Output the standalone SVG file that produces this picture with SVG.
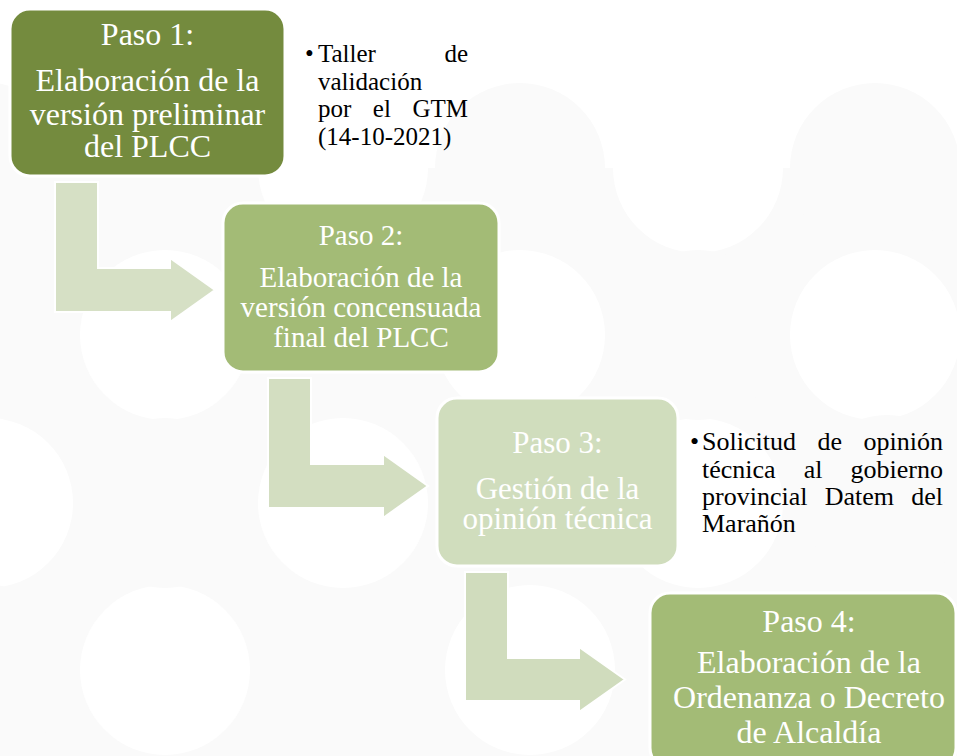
<svg xmlns="http://www.w3.org/2000/svg" width="957" height="756" viewBox="0 0 957 756">
<style>
.bg{fill:#fafafa}
.wh{fill:#ffffff}
.box{stroke:#ffffff;stroke-width:3}
.arr{stroke:#ffffff;stroke-width:2}
.t{fill:#ffffff;text-anchor:middle}
.n{fill:#000000}
</style>
<rect x="0" y="0" width="957" height="756" fill="#ffffff"/>
<g id="background">
<rect class="bg" x="0" y="168" width="957" height="588"/>
<circle class="bg" cx="-12" cy="168" r="85"/>
<circle class="bg" cx="165" cy="168" r="85"/>
<circle class="bg" cx="520" cy="168" r="85"/>
<circle class="bg" cx="875" cy="168" r="85"/>
<circle class="wh" cx="343" cy="168" r="85"/>
<circle class="wh" cx="698" cy="168" r="85"/>
<circle class="wh" cx="165" cy="335" r="85"/>
<circle class="wh" cx="520" cy="335" r="85"/>
<circle class="wh" cx="875" cy="335" r="85"/>
<circle class="wh" cx="-12" cy="503" r="85"/>
<circle class="wh" cx="343" cy="503" r="85"/>
<circle class="wh" cx="698" cy="503" r="85"/>
<circle class="wh" cx="165" cy="670" r="85"/>
<circle class="wh" cx="530" cy="670" r="85"/>
<circle class="bg" cx="698" cy="335" r="85"/>
<circle class="bg" cx="165" cy="503" r="85"/>
<circle class="bg" cx="887" cy="500" r="85"/>
<circle class="bg" cx="-12" cy="670" r="85"/>
</g>
<g id="connectors">
<path class="arr" fill="#d6e0c5" d="M55,182 H98 V268 H170 V258 L215,290 L170,322 V312 H55 Z"/>
<path class="arr" fill="#d3dec1" d="M268,378 H311 V464 H383 V454 L428,486 L383,518 V508 H268 Z"/>
<path class="arr" fill="#d0dcbd" d="M465,572 H508 V658 H579 V647 L625,679.5 L579,712 V701 H465 Z"/>
</g>
<g id="paso1" font-family="Liberation Serif, serif">
<rect class="box" x="10" y="9" width="275" height="167" rx="20" fill="#748b3e"/>
<text class="t" font-size="32" x="147.5" y="45">Paso 1:</text>
<text class="t" font-size="32" x="147.5" y="91">Elaboración de la</text>
<text class="t" font-size="32" x="147.5" y="125">versión preliminar</text>
<text class="t" font-size="32" x="147.5" y="157">del PLCC</text>
</g>
<g id="nota1" font-family="Liberation Serif, serif">
<text class="n" font-size="25" x="305" y="62">•</text>
<text class="n" font-size="25" x="318" y="62">Taller</text>
<text class="n" font-size="25" x="468" y="62" text-anchor="end">de</text>
<text class="n" font-size="25" x="318" y="90">validación</text>
<text class="n" font-size="25" x="318" y="117">por</text>
<text class="n" font-size="25" x="372.8" y="117">el</text>
<text class="n" font-size="25" x="468" y="117" text-anchor="end">GTM</text>
<text class="n" font-size="25" x="318" y="145">(14-10-2021)</text>
</g>
<g id="paso2" font-family="Liberation Serif, serif">
<rect class="box" x="223" y="203" width="276" height="169" rx="20" fill="#a3bb76"/>
<text class="t" font-size="29" x="361" y="245">Paso 2:</text>
<text class="t" font-size="29" x="361" y="287">Elaboración de la</text>
<text class="t" font-size="29" x="361" y="317">versión concensuada</text>
<text class="t" font-size="29" x="361" y="347">final del PLCC</text>
</g>
<g id="paso3" font-family="Liberation Serif, serif">
<rect class="box" x="437" y="398" width="241" height="168" rx="20" fill="#d0ddbd"/>
<text class="t" font-size="31" x="557.5" y="453">Paso 3:</text>
<text class="t" font-size="31" x="557.5" y="499">Gestión de la</text>
<text class="t" font-size="31" x="557.5" y="529">opinión técnica</text>
</g>
<g id="nota3" font-family="Liberation Serif, serif">
<text class="n" font-size="26" x="690" y="450">•</text>
<text class="n" font-size="26" x="702" y="450">Solicitud</text>
<text class="n" font-size="26" x="817.4" y="450">de</text>
<text class="n" font-size="26" x="943" y="450" text-anchor="end">opinión</text>
<text class="n" font-size="26" x="702" y="478">técnica</text>
<text class="n" font-size="26" x="803.7" y="478">al</text>
<text class="n" font-size="26" x="943" y="478" text-anchor="end">gobierno</text>
<text class="n" font-size="26" x="702" y="505">provincial</text>
<text class="n" font-size="26" x="824.7" y="505">Datem</text>
<text class="n" font-size="26" x="943" y="505" text-anchor="end">del</text>
<text class="n" font-size="26" x="702" y="532">Marañón</text>
</g>
<g id="paso4" font-family="Liberation Serif, serif">
<rect class="box" x="650" y="593" width="306" height="175" rx="20" fill="#a3bb76"/>
<text class="t" font-size="32" x="809" y="632">Paso 4:</text>
<text class="t" font-size="32" x="809" y="673">Elaboración de la</text>
<text class="t" font-size="32" x="809" y="708">Ordenanza o Decreto</text>
<text class="t" font-size="32" x="809" y="743">de Alcaldía</text>
</g>
</svg>
